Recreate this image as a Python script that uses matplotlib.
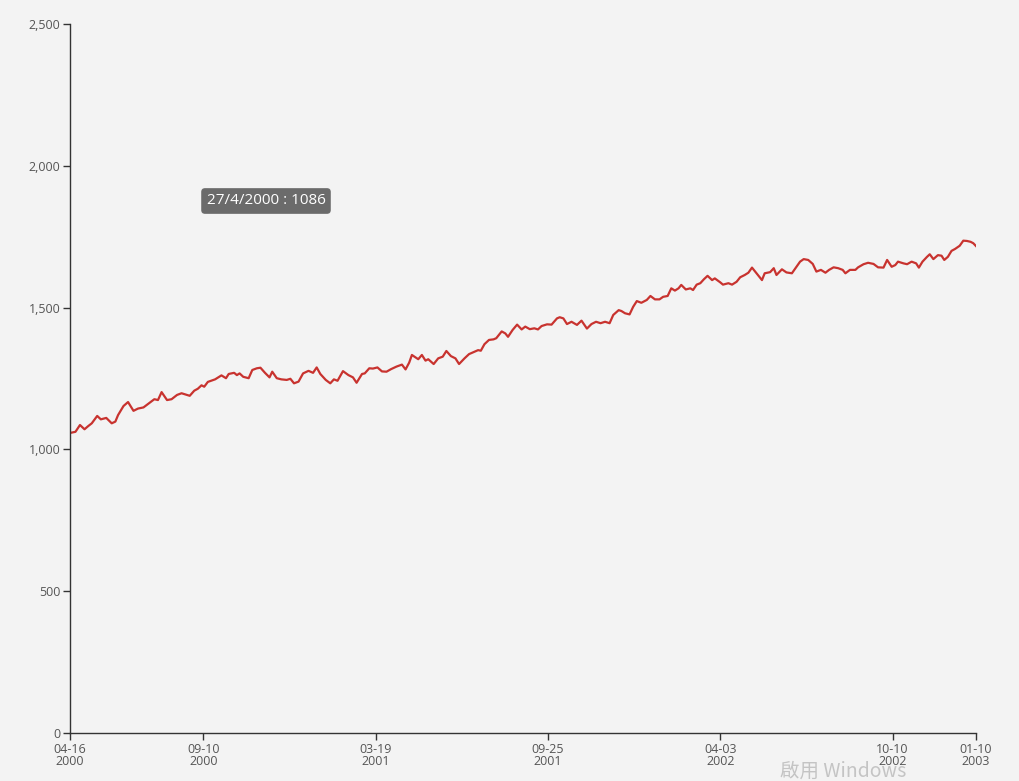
import numpy as np
import pandas as pd
import matplotlib
matplotlib.use("Agg")
import matplotlib.pyplot as plt
import matplotlib.dates as mdates
from matplotlib.ticker import FuncFormatter

plt.rcParams["font.family"] = ["Open Sans", "DejaVu Sans"]

start_date = "2000-04-16"
end_date = "2003-01-10"

# days since start_date
day_offsets = [
    0, 6, 11, 16, 20, 24, 30, 34, 40, 46, 50, 53, 59, 64, 70, 75, 81, 86, 93, 97,
    101, 107, 112, 118, 123, 127, 132, 137, 141, 145, 148, 152, 160, 167, 172, 175, 181,
    184, 187, 191, 197, 201, 206, 210, 215, 220, 223, 228, 233, 239, 243, 247, 252, 257,
    263, 268, 272, 276, 282, 287, 291, 295, 301, 307, 312, 316, 322, 325, 330, 334, 339,
    344, 349, 354, 360,
    366, 370, 374, 377, 384, 388, 392, 395, 401, 406, 411, 415, 420, 425, 429, 435, 440,
    445, 450, 453, 457, 462, 467, 470, 476, 480, 483, 488, 493, 498, 502, 507, 512, 516,
    520, 526, 531, 537, 540,
    544, 548, 553, 559, 564, 570, 575, 580, 585, 590, 595, 599, 605, 608, 612, 617, 621,
    625, 630, 636, 640, 645, 650, 654, 659, 663, 667, 671, 674, 679, 684, 687, 691, 695,
    699, 703, 708, 711, 717, 720,
    726, 730, 735, 739, 744, 748, 752, 757, 763, 766, 772, 776, 779, 785, 790, 796, 800,
    805, 809, 814, 819, 823, 828, 833, 837, 842, 847, 852, 855, 860, 866, 869, 875, 880,
    886, 891,
    897, 901, 906, 910, 913, 919, 923, 928, 933, 936, 940, 945, 948, 952, 957, 961, 964,
    968, 972, 976, 981, 985, 989, 993, 996, 999,
]

values = [
    1058, 1062, 1086, 1071, 1082, 1092, 1118, 1106, 1111, 1092, 1098, 1121, 1153, 1167,
    1136, 1144, 1148, 1160, 1177, 1174, 1202, 1174, 1177, 1192, 1198, 1194, 1189, 1207,
    1214, 1226, 1221, 1238, 1247, 1261, 1251, 1266, 1270,
    1262, 1268, 1256, 1251, 1280, 1286, 1288, 1270, 1254, 1274, 1251, 1247, 1245, 1249,
    1233, 1239, 1268, 1277, 1270, 1289, 1266, 1245, 1233, 1247, 1242, 1276, 1262, 1254,
    1235, 1266, 1268, 1286, 1285, 1289, 1275, 1274, 1283, 1292,
    1299, 1282, 1306, 1333, 1318, 1333, 1313, 1318, 1301, 1321, 1327, 1347, 1329, 1321,
    1301, 1321, 1336, 1343, 1350, 1348, 1371, 1386, 1388, 1392, 1416, 1409, 1397, 1421,
    1440, 1423, 1433, 1424, 1427, 1423, 1435, 1441, 1440, 1462, 1466,
    1462, 1442, 1450, 1439, 1454, 1426, 1442, 1450, 1445, 1450, 1445, 1474, 1491, 1488,
    1480, 1476, 1503, 1523, 1517, 1527, 1541, 1529, 1529, 1538, 1541, 1568, 1560, 1568,
    1580, 1564, 1568, 1562, 1581, 1586, 1600, 1612, 1597, 1603, 1589, 1581,
    1586, 1581, 1591, 1607, 1615, 1623, 1641, 1621, 1597, 1621, 1625, 1639, 1615, 1635,
    1624, 1621, 1639, 1662, 1671, 1668, 1654, 1627, 1633, 1623, 1633, 1642, 1639, 1633,
    1621, 1633, 1633, 1642, 1653, 1658, 1654, 1642,
    1641, 1668, 1644, 1650, 1662, 1656, 1653, 1662, 1656, 1641, 1662, 1679, 1688, 1671,
    1685, 1683, 1668, 1679, 1700, 1707, 1718, 1736, 1735, 1732, 1727, 1717,
]

tick_dates = ["2000-04-16", "2000-09-10", "2001-03-19", "2001-09-25",
              "2002-04-03", "2002-10-10", "2003-01-10"]
y_ticks = [0, 500, 1000, 1500, 2000, 2500]

tooltip_text = "27/4/2000 : 1086"
watermark_text = "啟用 Windows"

bg = "#f3f3f3"
line_color = "#c8332f"
axis_color = "#333333"
label_color = "#555555"

dates = pd.Timestamp(start_date) + pd.to_timedelta(day_offsets, unit="D")

fig = plt.figure(figsize=(10.19, 7.81), dpi=100, facecolor=bg)
ax = fig.add_axes([70 / 1019, 48 / 781, 906 / 1019, 709 / 781])
ax.set_facecolor(bg)

ax.plot(dates, values, color=line_color, linewidth=1.6, solid_joinstyle="round")

ax.set_xlim(pd.Timestamp(start_date), pd.Timestamp(end_date))
ax.set_ylim(0, 2500)

ax.set_xticks(pd.to_datetime(tick_dates))
ax.xaxis.set_major_formatter(mdates.DateFormatter("%m-%d\n%Y"))
ax.set_yticks(y_ticks)
ax.yaxis.set_major_formatter(FuncFormatter(lambda v, _: f"{int(v):,}"))

for side in ("top", "right"):
    ax.spines[side].set_visible(False)
for side in ("left", "bottom"):
    ax.spines[side].set_color(axis_color)
    ax.spines[side].set_linewidth(1.0)

ax.tick_params(axis="both", direction="out", length=5, width=1, color=axis_color,
               labelcolor=label_color, labelsize=9, pad=2)
for lbl in ax.get_xticklabels():
    lbl.set_linespacing(0.95)

fig.text(266 / 1019, (781 - 201) / 781, tooltip_text, color="white", fontsize=11,
         ha="center", va="center",
         bbox=dict(boxstyle="round,pad=0.35,rounding_size=0.25", facecolor="#6b6b6b",
                   edgecolor="none"))

fig.text(843 / 1019, (781 - 771) / 781, watermark_text, color="#c4c4c4", fontsize=14,
         ha="center", va="center", family=["Noto Sans CJK TC", "DejaVu Sans"])

fig.savefig("out.png", dpi=100, facecolor=bg)
plt.close(fig)
